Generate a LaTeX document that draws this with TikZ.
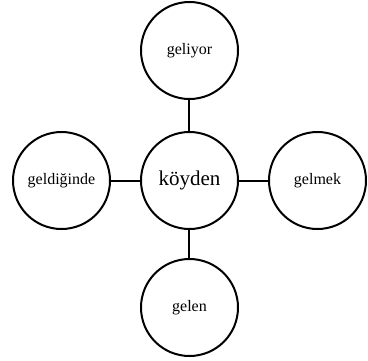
\documentclass[tikz,border=0pt]{standalone}
\usepackage{fontspec}
\setmainfont{Liberation Serif}
\begin{document}
\begin{tikzpicture}[x=1pt,y=-1pt,
  word/.style={circle,draw=black,line width=2pt,minimum size=97pt,inner sep=0pt,font=\fontsize{16}{18}\selectfont},
  hub/.style={word,font=\fontsize{21}{24}\selectfont},
  link/.style={line width=2pt}]
\useasboundingbox (0,0) rectangle (368,360);
\node[hub] (c) at (189.5,180.5) {köyden};
\node[word] (t) at (189.5,50.5) {geliyor};
\node[word] (l) at (61.5,180.5) {geldiğinde};
\node[word] (r) at (317.5,180.5) {gelmek};
\node[word] (b) at (189.5,307.5) {gelen};
\draw[link] (c) -- (t);
\draw[link] (c) -- (l);
\draw[link] (c) -- (r);
\draw[link] (c) -- (b);
\end{tikzpicture}
\end{document}
